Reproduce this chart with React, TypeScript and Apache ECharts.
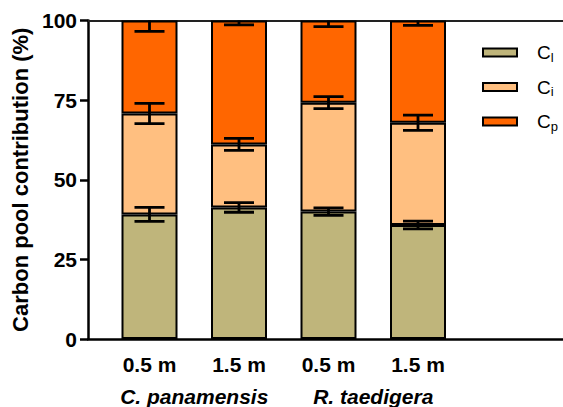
import React, { useEffect, useRef } from "react";
import * as echarts from "echarts";

// Sampling depths and the two species they belong to
const depths = ["0.5 m", "1.5 m", "0.5 m", "1.5 m"];
const species = ["C. panamensis", "R. taedigera"];

// Mean contribution of each carbon pool (%) and its error
const cl = [39.1, 41.3, 40.0, 35.8];
const clErr = [2.2, 1.5, 1.2, 1.2];
const ci = [31.7, 19.8, 34.2, 32.1];
const ciErr = [3.2, 1.9, 1.9, 2.4];
const cp = [29.2, 38.9, 25.8, 32.1];
const cpErr = [3.4, 1.4, 1.9, 1.5];

const yTicks = [0, 25, 50, 75, 100];

const FONT = "'Liberation Sans', Arial, Helvetica, sans-serif";
const COLORS = { Cl: "#BFB57B", Ci: "#FFBF80", Cp: "#FF6600" };
const SUBS: Record<string, string> = { Cl: "l", Ci: "i", Cp: "p" };

export default function App() {
  const ref = useRef<HTMLDivElement>(null);

  useEffect(() => {
    if (!ref.current) return;
    const chart = echarts.init(ref.current, null, { renderer: "svg" });

    // cumulative tops of each stacked segment, where the error bars sit
    const pools = [
      { name: "Cl", vals: cl, errs: clErr },
      { name: "Ci", vals: ci, errs: ciErr },
      { name: "Cp", vals: cp, errs: cpErr },
    ];
    const running = depths.map(() => 0);
    const errData: number[][] = [];
    pools.forEach((p) => {
      p.vals.forEach((v, i) => {
        running[i] += v;
        errData.push([i, running[i], p.errs[i]]);
      });
    });

    const barSeries = pools.map((p) => ({
      name: p.name,
      type: "bar",
      stack: "pool",
      xAxisIndex: 0,
      yAxisIndex: 0,
      barWidth: 56,
      data: p.vals,
      itemStyle: {
        color: (COLORS as any)[p.name],
        borderColor: "#000",
        borderWidth: 2,
      },
    }));

    const gridTop = 20.5;
    const gridBottom = 68;

    chart.setOption({
      animation: false,
      textStyle: { fontFamily: FONT },
      grid: [
        { left: 104.75, right: 100.25, top: gridTop, bottom: gridBottom },
        { left: 88, right: 0, top: gridTop, bottom: gridBottom },
      ],
      legend: {
        orient: "vertical",
        left: 477,
        top: 38,
        itemWidth: 34,
        itemHeight: 8,
        itemGap: 14,
        data: ["Cl", "Ci", "Cp"],
        icon: "rect",
        itemStyle: { borderColor: "#000", borderWidth: 2 },
        formatter: (name: string) => `{g|}{c|C}{s|${SUBS[name]}}`,
        textStyle: {
          fontFamily: FONT,
          fontSize: 19,
          color: "#000",
          rich: {
            g: { width: 15 },
            c: { fontSize: 19, lineHeight: 22, color: "#000", fontFamily: FONT },
            s: {
              fontSize: 13,
              lineHeight: 13,
              verticalAlign: "bottom",
              color: "#000",
              fontFamily: FONT,
            },
          },
        },
      },
      xAxis: [
        {
          type: "category",
          gridIndex: 0,
          data: depths,
          position: "bottom",
          axisLine: { show: false },
          axisTick: { show: false },
          axisLabel: {
            interval: 0,
            margin: 15,
            fontSize: 21,
            fontWeight: "bold",
            color: "#000",
            fontFamily: FONT,
          },
        },
        {
          type: "category",
          gridIndex: 0,
          data: species,
          position: "bottom",
          offset: 32,
          axisLine: { show: false },
          axisTick: { show: false },
          axisLabel: {
            interval: 0,
            hideOverlap: false,
            margin: 15,
            fontSize: 21,
            fontWeight: "bold",
            fontStyle: "italic",
            color: "#000",
            fontFamily: FONT,
          },
        },
        {
          type: "value",
          gridIndex: 1,
          min: 0,
          max: 1,
          position: "bottom",
          axisLine: { show: true, lineStyle: { color: "#000", width: 2.5 } },
          axisTick: { show: false },
          axisLabel: { show: false },
          splitLine: { show: false },
        },
        {
          type: "value",
          gridIndex: 1,
          min: 0,
          max: 1,
          position: "top",
          axisLine: { show: true, lineStyle: { color: "#222", width: 2 } },
          axisTick: { show: false },
          axisLabel: { show: false },
          splitLine: { show: false },
        },
      ],
      yAxis: [
        {
          type: "value",
          gridIndex: 0,
          min: yTicks[0],
          max: yTicks[yTicks.length - 1],
          show: false,
        },
        {
          type: "value",
          gridIndex: 1,
          min: yTicks[0],
          max: yTicks[yTicks.length - 1],
          interval: 25,
          name: "Carbon pool contribution (%)",
          nameLocation: "middle",
          nameGap: 56,
          nameTextStyle: {
            fontSize: 22,
            fontWeight: "bold",
            color: "#000",
            fontFamily: FONT,
          },
          axisLine: { show: true, lineStyle: { color: "#000", width: 2.5 } },
          axisTick: {
            show: true,
            inside: false,
            length: 8,
            lineStyle: { color: "#000", width: 2.5 },
          },
          axisLabel: {
            margin: 11,
            fontSize: 21,
            fontWeight: "bold",
            color: "#000",
            fontFamily: FONT,
          },
          splitLine: { show: false },
        },
      ],
      series: [
        ...barSeries,
        {
          type: "custom",
          name: "errors",
          xAxisIndex: 0,
          yAxisIndex: 0,
          clip: true,
          z: 5,
          data: errData,
          encode: { x: 0, y: 1 },
          renderItem: (_params: any, api: any) => {
            const x = api.value(0);
            const y = api.value(1);
            const e = api.value(2);
            const hi = api.coord([x, y + e]);
            const lo = api.coord([x, y - e]);
            const half = 15;
            const style = { stroke: "#000", lineWidth: 2.8 };
            return {
              type: "group",
              children: [
                { type: "line", shape: { x1: hi[0], y1: hi[1], x2: lo[0], y2: lo[1] }, style },
                { type: "line", shape: { x1: hi[0] - half, y1: hi[1], x2: hi[0] + half, y2: hi[1] }, style },
                { type: "line", shape: { x1: lo[0] - half, y1: lo[1], x2: lo[0] + half, y2: lo[1] }, style },
              ],
            };
          },
        },
      ],
    });

    return () => chart.dispose();
  }, []);

  return (
    <div
      ref={ref}
      style={{ position: "fixed", left: 0, top: 0, width: 563, height: 407, background: "#fff" }}
    />
  );
}
